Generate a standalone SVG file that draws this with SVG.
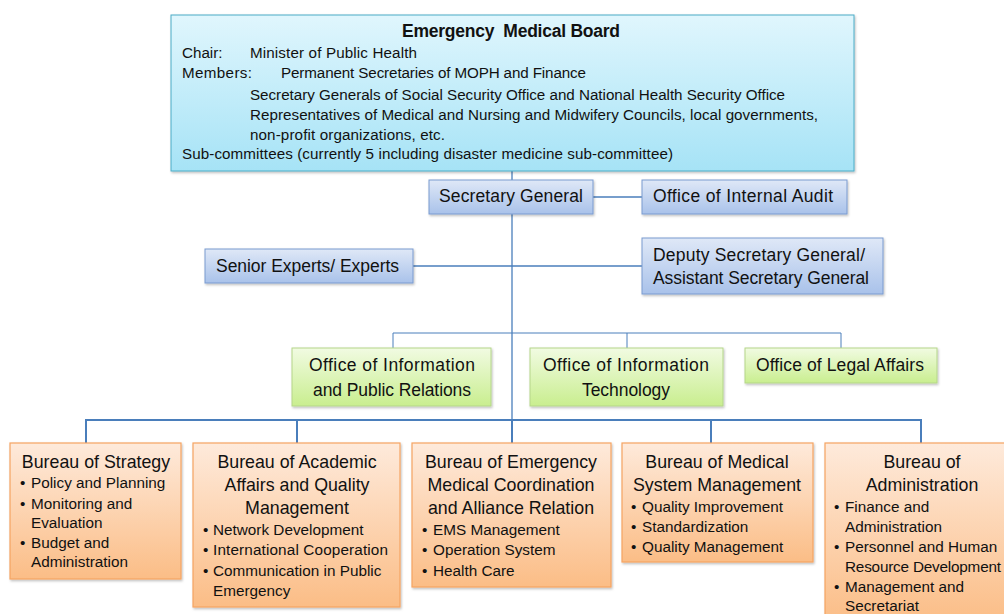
<svg xmlns="http://www.w3.org/2000/svg" width="1004" height="614" viewBox="0 0 1004 614">
<style>
text{font-family:"Liberation Sans",Arial,sans-serif;fill:#111;}
.t{font-size:15.2px;}
.h{font-size:17.5px;font-weight:bold;}
.m{font-size:17.5px;}
.bt{font-size:17.8px;text-anchor:middle;}
.bl{font-size:15.3px;}
.ln{stroke:#4a7ebb;fill:none;stroke-width:1.3;}
.lo{stroke:#4a7ebb;fill:none;stroke-width:1;}
.lnb{stroke:#4a7ebb;fill:none;stroke-width:2;}
.board{fill:url(#gCyan);stroke:#4bacc6;stroke-width:1;}
.blue{fill:url(#gBlue);stroke:#7a9bd0;stroke-width:1;}
.green{fill:url(#gGreen);stroke:#b5d68a;stroke-width:1;}
.orange{fill:url(#gOrange);stroke:#f6a462;stroke-width:1.2;}
</style>
<defs>
<linearGradient id="gCyan" x1="0" y1="0" x2="0" y2="1"><stop offset="0" stop-color="#e0f6fd"/><stop offset="1" stop-color="#a6e3f6"/></linearGradient>
<linearGradient id="gBlue" x1="0" y1="0" x2="0" y2="1"><stop offset="0" stop-color="#dfe8f7"/><stop offset="1" stop-color="#a9c2ea"/></linearGradient>
<linearGradient id="gGreen" x1="0" y1="0" x2="0" y2="1"><stop offset="0" stop-color="#f1fbe2"/><stop offset="1" stop-color="#c9ee8f"/></linearGradient>
<linearGradient id="gOrange" x1="0" y1="0" x2="0" y2="1"><stop offset="0" stop-color="#feeadb"/><stop offset="1" stop-color="#fbbd86"/></linearGradient>
<filter id="sh" x="-5%" y="-5%" width="110%" height="120%"><feDropShadow dx="1" dy="1.5" stdDeviation="1" flood-color="#000" flood-opacity="0.25"/></filter>
</defs>

<g id="connectors">
<line class="ln" x1="512" y1="171" x2="512" y2="420"/>
<line class="ln" x1="593" y1="197" x2="642" y2="197"/>
<line class="ln" x1="413" y1="266" x2="642" y2="266"/>
<polyline class="lo" points="393,348 393,333 841,333 841,348"/>
<line class="lo" x1="627" y1="333" x2="627" y2="348"/>
<polyline class="lnb" points="86,443 86,420 921,420 921,443"/>
<line class="lnb" x1="297" y1="420" x2="297" y2="443"/>
<line class="lnb" x1="512" y1="420" x2="512" y2="443"/>
<line class="lnb" x1="711" y1="420" x2="711" y2="443"/>
</g>

<g id="board">
<rect class="board" x="171" y="15" width="683" height="156" filter="url(#sh)"/>
<text class="h" x="402" y="37" textLength="218" xml:space="preserve">Emergency  Medical Board</text>
<text class="t" x="182" y="58">Chair:</text>
<text class="t" x="250" y="58" textLength="167">Minister of Public Health</text>
<text class="t" x="182" y="78" textLength="70">Members:</text>
<text class="t" x="281" y="78" textLength="305">Permanent Secretaries of MOPH and Finance</text>
<text class="t" x="250" y="100" textLength="535">Secretary Generals of Social Security Office and National Health Security Office</text>
<text class="t" x="250" y="120" textLength="568">Representatives of Medical and Nursing and Midwifery Councils, local governments,</text>
<text class="t" x="250" y="140" textLength="195">non-profit organizations, etc.</text>
<text class="t" x="182" y="159" textLength="491">Sub-committees (currently 5 including disaster medicine sub-committee)</text>
</g>

<g id="secretary-general">
<rect class="blue" x="429" y="180" width="164" height="34" filter="url(#sh)"/>
<text class="m" x="439" y="202" textLength="144">Secretary General</text>
</g>
<g id="internal-audit">
<rect class="blue" x="642" y="180" width="205" height="34" filter="url(#sh)"/>
<text class="m" x="653" y="202" textLength="180">Office of Internal Audit</text>
</g>
<g id="senior-experts">
<rect class="blue" x="205" y="249" width="208" height="34" filter="url(#sh)"/>
<text class="m" x="216" y="272" textLength="183">Senior Experts/ Experts</text>
</g>
<g id="deputy">
<rect class="blue" x="642" y="238" width="241" height="56" filter="url(#sh)"/>
<text class="m" x="653" y="261" textLength="212">Deputy Secretary General/</text>
<text class="m" x="653" y="284" textLength="216">Assistant Secretary General</text>
</g>

<g id="office-ipr">
<rect class="green" x="292" y="348" width="199" height="58" filter="url(#sh)"/>
<text class="m" x="309" y="371" textLength="166">Office of Information</text>
<text class="m" x="313" y="396" textLength="158">and Public Relations</text>
</g>
<g id="office-it">
<rect class="green" x="530" y="348" width="193" height="58" filter="url(#sh)"/>
<text class="m" x="543" y="371" textLength="166">Office of Information</text>
<text class="m" x="582" y="396" textLength="88">Technology</text>
</g>
<g id="office-legal">
<rect class="green" x="745" y="348" width="192" height="35" filter="url(#sh)"/>
<text class="m" x="756" y="371" textLength="168">Office of Legal Affairs</text>
</g>

<g id="bureau-strategy">
<rect class="orange" x="10" y="443" width="171" height="136" filter="url(#sh)"/>
<text class="bt" x="96" y="468">Bureau of Strategy</text>
<text class="bl" x="20" y="488">•</text><text class="bl" x="31" y="488">Policy and Planning</text>
<text class="bl" x="20" y="509">•</text><text class="bl" x="31" y="509">Monitoring and</text>
<text class="bl" x="31" y="528">Evaluation</text>
<text class="bl" x="20" y="548">•</text><text class="bl" x="31" y="548">Budget and</text>
<text class="bl" x="31" y="567">Administration</text>
</g>
<g id="bureau-academic">
<rect class="orange" x="193" y="443" width="207" height="164" filter="url(#sh)"/>
<text class="bt" x="297" y="468">Bureau of Academic</text>
<text class="bt" x="297" y="491">Affairs and Quality</text>
<text class="bt" x="297" y="514">Management</text>
<text class="bl" x="203" y="535">•</text><text class="bl" x="213" y="535">Network Development</text>
<text class="bl" x="203" y="555">•</text><text class="bl" x="213" y="555" textLength="175">International Cooperation</text>
<text class="bl" x="203" y="576">•</text><text class="bl" x="213" y="576">Communication in Public</text>
<text class="bl" x="213" y="596">Emergency</text>
</g>
<g id="bureau-emergency">
<rect class="orange" x="412" y="443" width="199" height="144" filter="url(#sh)"/>
<text class="bt" x="511" y="468">Bureau of Emergency</text>
<text class="bt" x="511" y="491">Medical Coordination</text>
<text class="bt" x="511" y="514">and Alliance Relation</text>
<text class="bl" x="422" y="535">•</text><text class="bl" x="433" y="535">EMS Management</text>
<text class="bl" x="422" y="555">•</text><text class="bl" x="433" y="555">Operation System</text>
<text class="bl" x="422" y="576">•</text><text class="bl" x="433" y="576">Health Care</text>
</g>
<g id="bureau-medical">
<rect class="orange" x="622" y="443" width="191" height="119" filter="url(#sh)"/>
<text class="bt" x="717" y="468">Bureau of Medical</text>
<text class="bt" x="717" y="491">System Management</text>
<text class="bl" x="631" y="512">•</text><text class="bl" x="642" y="512">Quality Improvement</text>
<text class="bl" x="631" y="532">•</text><text class="bl" x="642" y="532">Standardization</text>
<text class="bl" x="631" y="552">•</text><text class="bl" x="642" y="552">Quality Management</text>
</g>
<g id="bureau-administration">
<rect class="orange" x="825" y="443" width="190" height="180" filter="url(#sh)"/>
<text class="bt" x="922" y="468">Bureau of</text>
<text class="bt" x="922" y="491">Administration</text>
<text class="bl" x="834" y="512">•</text><text class="bl" x="845" y="512">Finance and</text>
<text class="bl" x="845" y="532">Administration</text>
<text class="bl" x="834" y="552">•</text><text class="bl" x="845" y="552">Personnel and Human</text>
<text class="bl" x="845" y="572" textLength="156">Resource Development</text>
<text class="bl" x="834" y="592">•</text><text class="bl" x="845" y="592">Management and</text>
<text class="bl" x="845" y="611">Secretariat</text>
</g>
</svg>
